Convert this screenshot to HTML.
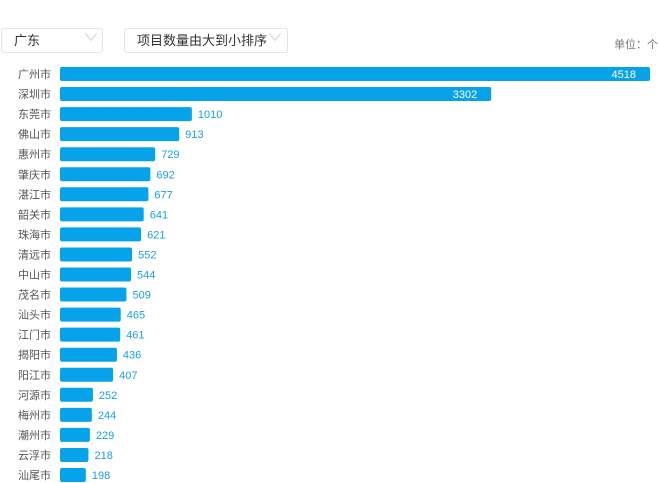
<!DOCTYPE html>
<html><head><meta charset="utf-8">
<style>
body{margin:0;width:660px;height:483px;overflow:hidden;background:#fff;font-family:"Liberation Sans","Noto Sans CJK SC",sans-serif;position:relative}
.dd{position:absolute;top:28px;height:25px;border:1px solid #e4e4e4;border-radius:3px;box-sizing:border-box;font-size:13px;color:#333;line-height:23px}
.dd span.c{position:absolute;top:-2px;color:#ccc;font-size:10px;transform:scaleX(1.6)}
#unit{position:absolute;right:2px;top:36px;font-size:11px;color:#777}
svg{position:absolute;left:0;top:0}
</style></head><body>
<div class="dd" style="left:1px;width:102px;padding-left:12px">广东<span class="c" style="left:84px">∨</span></div>
<div class="dd" style="left:124px;width:164px;padding-left:12px">项目数量由大到小排序<span class="c" style="left:145px">∨</span></div>
<div id="unit">单位：个</div>
<svg id="chart" width="660" height="483"></svg>
<script>
const categories=["广州市","深圳市","东莞市","佛山市","惠州市","肇庆市","湛江市","韶关市","珠海市","清远市","中山市","茂名市","汕头市","江门市","揭阳市","阳江市","河源市","梅州市","潮州市","云浮市","汕尾市"];
const values=[4518,3302,1010,913,729,692,677,641,621,552,544,509,465,461,436,407,252,244,229,218,198];
const NS="http://www.w3.org/2000/svg";
const svg=document.getElementById('chart');
const x0=60,maxV=4518,maxW=590;
const xs=v=>v/maxV*maxW;
const ys=i=>74+i*20.05;
categories.forEach((c,i)=>{
  const y=ys(i),w=xs(values[i]);
  const t=document.createElementNS(NS,'text');
  
  
  t.setAttribute('x',51);t.setAttribute('y',y+4);t.setAttribute('text-anchor','end');
  t.setAttribute('font-size','11');t.setAttribute('fill','#555');t.textContent=c;svg.appendChild(t);
  const r=document.createElementNS(NS,'rect');
  
  
  r.setAttribute('x',x0);r.setAttribute('y',y-7);r.setAttribute('width',w);r.setAttribute('height',14);
  r.setAttribute('rx',2);r.setAttribute('fill','#07a3ea');svg.appendChild(r);
  const v=document.createElementNS(NS,'text');
  
  
  const inside=w>300;
  v.setAttribute('x',inside?x0+w-14:x0+w+6);v.setAttribute('y',y+4);
  v.setAttribute('text-anchor',inside?'end':'start');
  v.setAttribute('font-size','11');v.setAttribute('fill',inside?'#fff':'#1a9fe0');
  v.textContent=values[i];svg.appendChild(v);
});
</script>
</body></html>
